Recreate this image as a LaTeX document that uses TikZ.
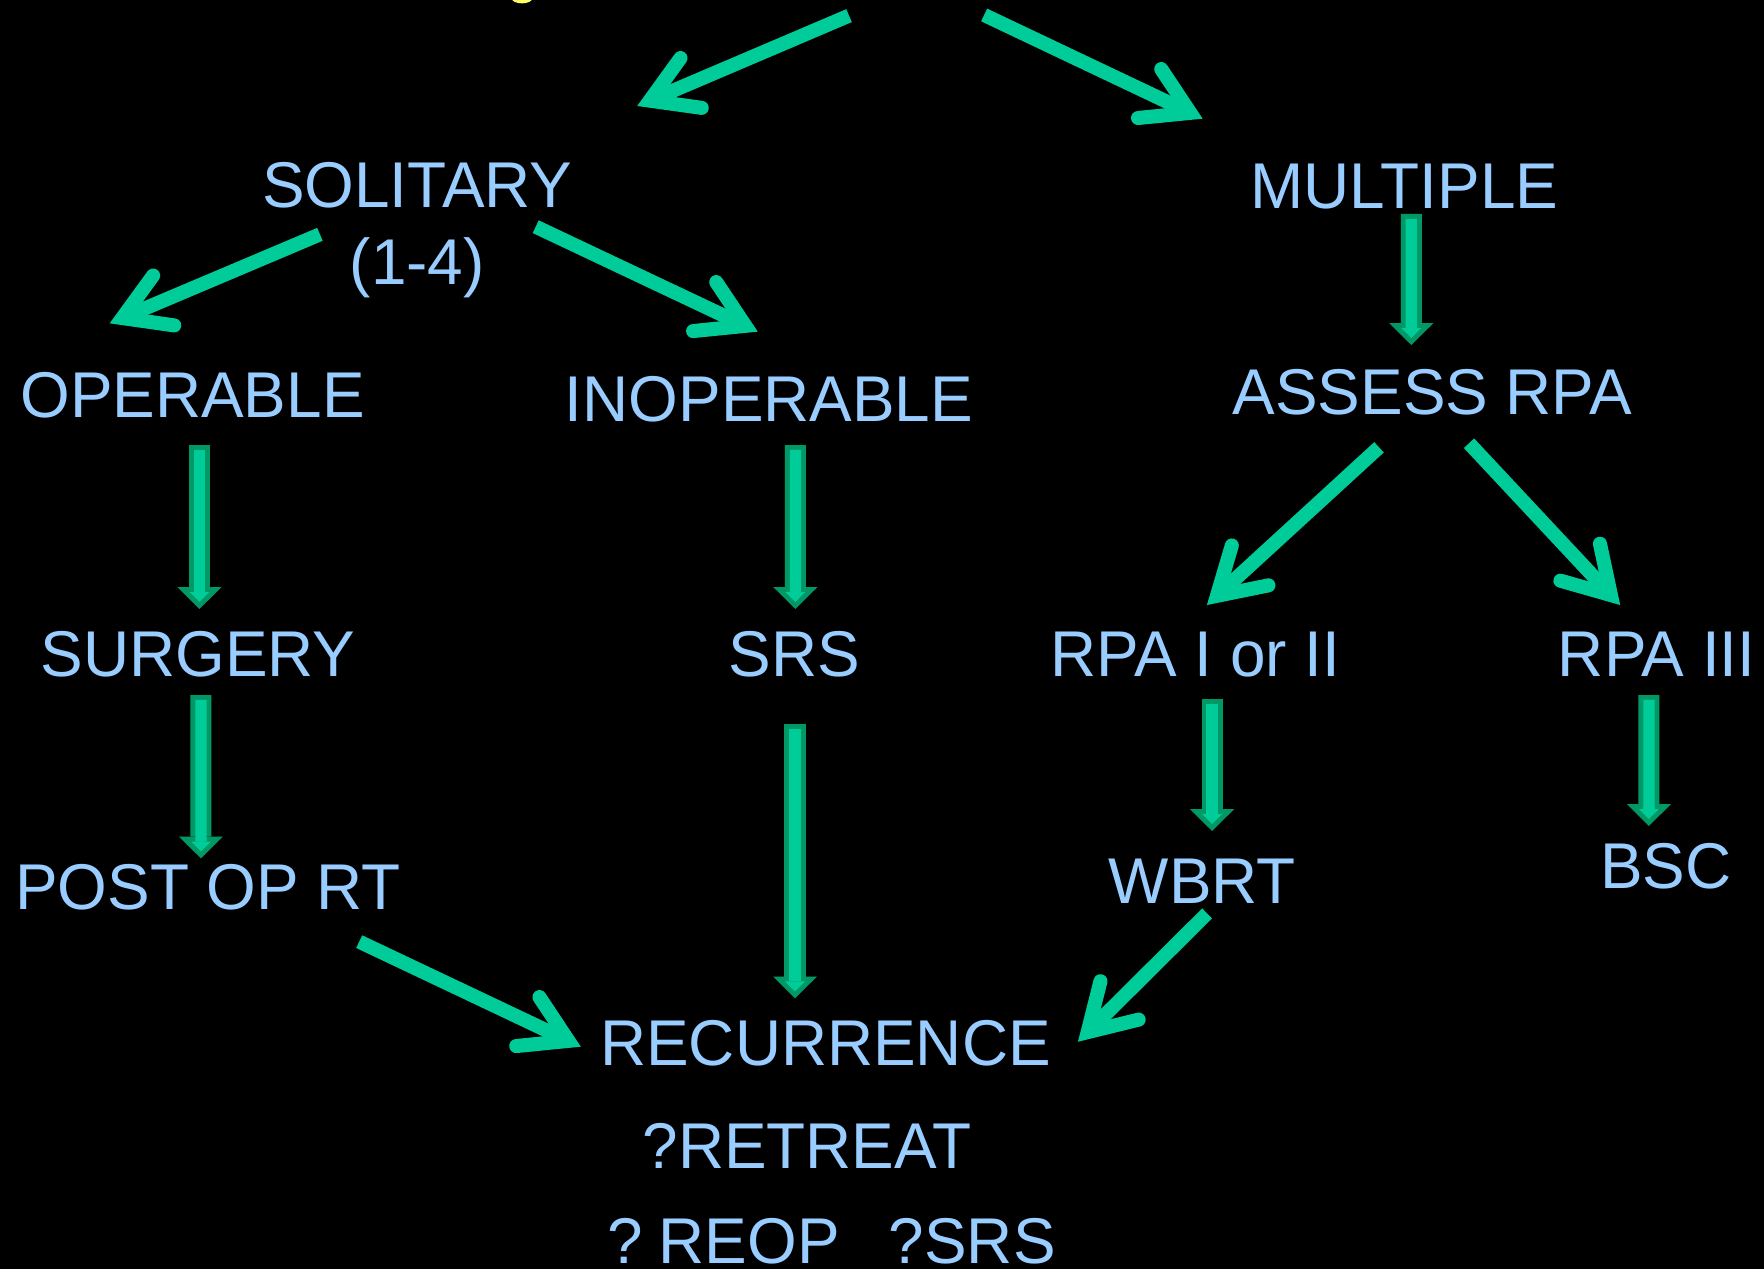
\documentclass[tikz,border=0pt]{standalone}
\usepackage{fontspec}
\usepackage{tikz}
\usetikzlibrary{arrows.meta,calc}

\newfontfamily\slidefont{Liberation Sans}[FakeStretch=0.987]

\definecolor{textblue}{HTML}{99CCFF}
\definecolor{arrowgreen}{HTML}{00CC99}
\definecolor{arrowdark}{HTML}{009966}
\definecolor{titleyellow}{HTML}{FFFF66}

% block arrow = dark outline pass + light inner pass
\newcommand\blockarrow[2]{%
  \draw[blockout] #1 -- #2;
  \draw[blockin] #1 -- #2;}

\begin{document}
\begin{tikzpicture}[x=0.01125cm,y=-0.01125cm,
  term/.style={text=textblue,font=\slidefont\fontsize{18.4}{22}\selectfont,inner sep=0pt,anchor=base},
  flow/.style={arrowgreen,line width=4pt,-{Straight Barb[length=12.8pt,width=15.4pt,line cap=round,line join=miter]}},
  blockout/.style={arrowdark,line width=6pt,-{Triangle[length=6.2pt,width=12.5pt,line width=0pt]}},
  blockin/.style={arrowgreen,line width=3.2pt,shorten <=1.4pt,shorten >=2pt,-{Triangle[length=2.8pt,width=5.6pt,line width=0pt]}}
]
\fill[black] (0,0) rectangle (1568,1128);
\useasboundingbox (0,0) rectangle (1568,1128);
\fill[titleyellow] (464,-2) ellipse (9.5 and 5);

% tree nodes
\node[term,anchor=south,align=center] (solitary) at (370.8,265.4) {SOLITARY\\(1-4)};
\node[term] (multiple) at (1248.4,185) {MULTIPLE};
\node[term] (operable) at (171.1,371.5) {OPERABLE};
\node[term] (inoperable) at (683.5,375) {INOPERABLE};
\node[term] (assess) at (1273.4,368) {ASSESS RPA};
\node[term] (surgery) at (176,601) {SURGERY};
\node[term] (srs) at (706,601) {SRS};
\node[term] (rpaone) at (1062.7,601) {RPA I or II};
\node[term] (rpathree) at (1472.6,601) {RPA III};
\node[term] (postop) at (185,808.5) {POST OP RT};
\node[term] (wbrt) at (1068.6,803.5) {WBRT};
\node[term] (bsc) at (1480.8,790) {BSC};
\node[term] (recurrence) at (733.8,947.5) {RECURRENCE};
\node[term] (retreat) at (717.3,1038.5) {?RETREAT};
\node[term] (reop) at (739.2,1123.5) {?\hspace{4.5pt}REOP\hspace{14pt}?SRS};

\coordinate (top-l) at (754.7,13.9);
\coordinate (top-r) at (874.8,13.3);

% line arrows
\draw[flow] (top-l) -- ($(solitary.south)+(195.6,-171.2)$);
\draw[flow] (top-r) -- ($(multiple.base)+(-179.4,-79.5)$);
\draw[flow] ($(solitary.south)+(-86.4,-57.1)$) -- ($(operable.base)+(-73.6,-84.1)$);
\draw[flow] ($(solitary.south)+(105.4,-63.9)$) -- ($(inoperable.base)+(-10,-80.2)$);
\draw[flow] ($(assess.base)+(-47.6,29.6)$) -- ($(rpaone.base)+(10.1,-63.2)$);
\draw[flow] ($(assess.base)+(32.4,26)$) -- ($(rpathree.base)+(-32.4,-63.2)$);
\draw[flow] ($(postop.base)+(134.3,28.5)$) -- ($(recurrence.base)+(-217.5,-17.1)$);
\draw[flow] ($(wbrt.base)+(4.4,8.4)$) -- ($(recurrence.base)+(224.4,-21.5)$);

% block arrows
\blockarrow{($(operable.base)+(6.2,24.1)$)}{($(surgery.base)+(1.3,-59.7)$)}
\blockarrow{($(surgery.base)+(2.6,16.8)$)}{($(postop.base)+(-6.4,-45.5)$)}
\blockarrow{($(inoperable.base)+(23.5,20.6)$)}{($(srs.base)+(1,-59.7)$)}
\blockarrow{($(srs.base)+(0.7,42.9)$)}{($(recurrence.base)+(-27.1,-60.1)$)}
\blockarrow{($(multiple.base)+(6.1,5.2)$)}{($(assess.base)+(-18.9,-61.3)$)}
\blockarrow{($(rpaone.base)+(14.7,20.3)$)}{($(wbrt.base)+(8.8,-64.8)$)}
\blockarrow{($(rpathree.base)+(-6.9,16.8)$)}{($(bsc.base)+(-15.1,-55.8)$)}
\end{tikzpicture}
\end{document}
